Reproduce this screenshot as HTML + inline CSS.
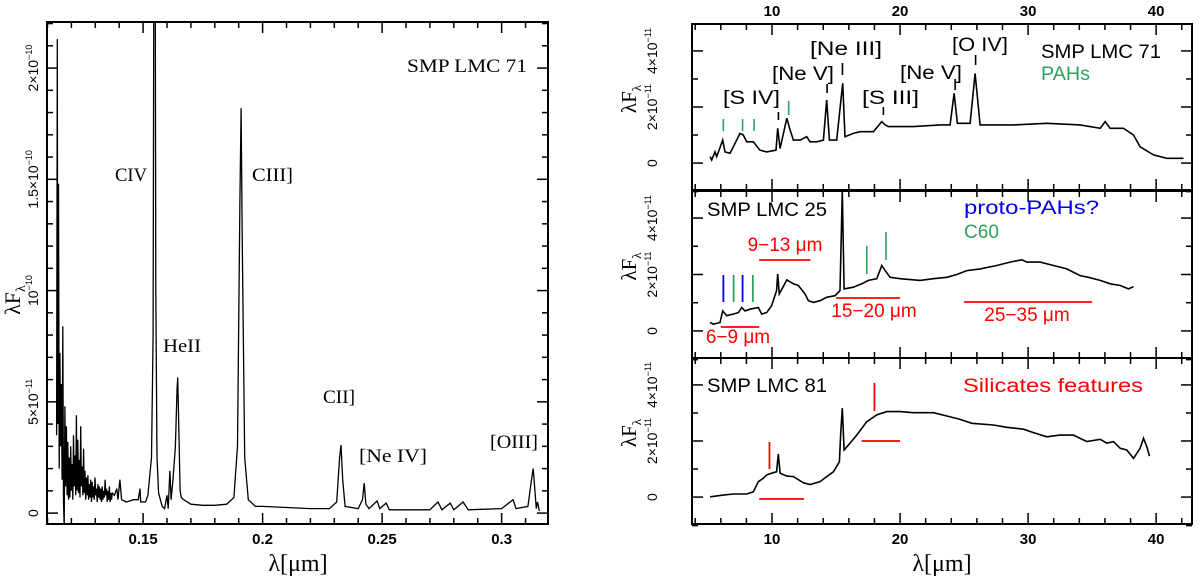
<!DOCTYPE html>
<html><head><meta charset="utf-8"><style>
html,body{margin:0;padding:0;background:#fff;}
svg{display:block;}
text{font-family:"Liberation Sans","DejaVu Sans",sans-serif;}
.serif{font-family:"Liberation Serif","DejaVu Serif",serif;}
</style></head><body>
<svg id="fig" width="1200" height="581" viewBox="0 0 1200 581" xmlns="http://www.w3.org/2000/svg">
</svg>
<script>
// ---------- LEFT (UV) panel data: wavelength (micron), flux (1e-11) ----------
const uvLam = [0.1138,0.1141,0.1143,0.1146,0.1149,0.1152,0.1155,0.1158,0.1161,0.1164,0.1167,0.1170,0.1173,0.1176,0.1179,0.1182,0.1185,0.1188,0.1191,0.1194,0.1197,0.1200,0.1203,0.1206,0.1209,0.1212,0.1215,0.1218,0.1221,0.1224,0.1227,0.1230,0.1233,0.1236,0.1239,0.1242,0.1245,0.1248,0.1251,0.1254,0.1257,0.1260,0.1263,0.1266,0.1269,0.1272,0.1275,0.1278,0.1281,0.1284,0.1287,0.1290,0.1293,0.1296,0.1299,0.1302,0.1305,0.1308,0.1311,0.1314,0.1317,0.1320,0.1323,0.1326,0.1329,0.1332,0.1335,0.1338,0.1341,0.1344,0.1347,0.1350,0.1353,0.1356,0.1359,0.1362,0.1365,0.1368,0.1371,0.1380,0.1390,0.1395,0.1403,0.1410,0.1430,0.1460,0.1480,0.1487,0.1490,0.1510,0.1520,0.1535,0.1542,0.1546,0.1550,0.1553,0.1558,0.1565,0.1580,0.1590,0.1600,0.1605,0.1612,0.1617,0.1625,0.1635,0.1642,0.1645,0.1648,0.1655,0.1660,0.1670,0.1700,0.1750,0.1800,0.1850,0.1880,0.1895,0.1905,0.1910,0.1915,0.1925,0.1940,0.1970,0.2000,0.2100,0.2200,0.2280,0.2310,0.2322,0.2328,0.2335,0.2345,0.2400,0.2418,0.2425,0.2432,0.2445,0.2479,0.2490,0.2517,0.2530,0.2700,0.2734,0.2750,0.2785,0.2800,0.2839,0.2860,0.3000,0.3048,0.3060,0.3110,0.3125,0.3132,0.3138,0.3145,0.3150,0.3158];
const uvFlux = [3.5,21.3,4,14.8,2,7.2,3,5.8,1.5,8.4,0.5,-0.6,4.8,1.2,3.9,0.8,3.2,0.6,2.5,0.7,3.0,1.0,2.2,0.6,3.5,1.2,2.6,0.8,4.4,1.0,3.3,0.9,2.4,0.7,3.9,1.2,2.1,0.8,2.9,0.9,1.9,0.6,1.6,0.8,1.7,0.6,1.3,0.7,1.5,0.5,1.4,0.7,1.2,0.6,1.6,0.8,1.1,0.5,1.3,0.7,1.2,0.6,1.1,0.5,1.2,0.6,1.0,0.7,1.5,0.8,1.1,0.5,1.0,0.6,1.2,0.5,0.9,0.6,0.9,0.8,1.1,0.6,1.5,0.6,0.5,0.6,0.6,1.1,0.5,0.5,0.8,2.5,8,30,30,10,2.5,0.9,0.3,0.2,0.8,0.2,1.9,0.6,1.5,3,5.5,6.1,4.5,1,0.7,0.6,0.4,0.35,0.35,0.4,0.7,3,14,18.2,12,2.5,0.6,0.3,0.3,0.25,0.2,0.2,0.5,2.5,3.06,1.5,0.3,0.2,0.6,1.35,0.4,0.2,0.55,0.2,0.45,0.15,0.15,0.5,0.15,0.45,0.15,0.5,0.15,0.2,0.6,0.2,0.3,1.5,2.0,1.2,0.2,0.5,0.1];
const uvXTicks = [0.15,0.2,0.25,0.3];
const uvXTickLabels = ["0.15","0.2","0.25","0.3"];
const uvYTicks = [0,5,10,15,20];
const uvYTickLabels = [["0",""],["5×10","−11"],["10","−10"],["1.5×10","−10"],["2×10","−10"]];

// ---------- RIGHT (IR) panels data: wavelength (micron), flux (1e-11) ----------
const irLam71 = [5.16,5.29,5.55,5.68,6.15,6.33,6.72,7.5,7.76,8.02,8.54,9.06,9.58,10.31,10.44,10.63,11.15,11.41,11.67,12.19,12.71,12.97,13.49,14.01,14.27,14.48,15.05,15.52,15.70,16.35,16.88,17.92,18.57,18.83,19.09,21.04,23.13,23.91,24.22,24.48,25.47,25.86,26.25,28.85,31.46,34.06,35.63,36.02,36.41,37.45,38.23,38.75,39.79,40.83,42.14];
const irFlux71 = [0.23,0.11,0.40,0.23,0.82,0.40,0.35,1.06,1.0,0.76,0.76,0.46,0.40,0.46,1.24,0.52,1.60,1.18,0.82,0.82,0.94,0.76,0.76,0.82,2.25,0.82,0.82,2.85,0.94,1.06,1.12,1.12,1.48,1.36,1.30,1.30,1.36,1.36,2.49,1.42,1.42,3.20,1.36,1.36,1.42,1.36,1.24,1.48,1.24,1.24,1.0,0.58,0.29,0.17,0.17];
const irLam25 = [5.16,5.42,5.94,6.15,6.46,6.98,7.37,7.63,7.89,8.28,8.93,9.19,9.58,9.97,10.36,10.44,10.57,11.15,11.67,12.06,12.58,12.84,13.23,13.75,14.27,14.92,15.31,15.49,15.63,16.35,17.01,17.53,18.18,18.57,18.83,19.22,20.0,21.56,22.60,23.65,24.43,25.21,26.25,27.55,28.59,29.51,29.90,30.94,31.98,33.02,34.06,34.71,35.63,36.41,37.19,37.84,38.23];
const irFlux25 = [0.30,0.24,0.30,0.71,0.54,0.60,0.65,0.83,0.71,0.77,0.83,0.60,0.65,0.89,1.43,2.02,1.31,1.81,1.67,1.61,1.31,1.07,1.01,1.07,1.19,1.25,1.43,4.94,1.49,1.55,1.67,1.79,1.85,2.32,2.14,1.90,1.85,1.79,1.85,1.90,2.0,2.14,2.20,2.32,2.44,2.52,2.44,2.44,2.32,2.20,1.96,1.90,1.79,1.67,1.61,1.49,1.57];
const irLam81 = [5.16,6.20,6.98,8.02,8.54,8.93,9.32,9.58,10.10,10.36,10.49,10.63,11.15,11.67,12.45,12.97,13.75,14.27,14.79,15.26,15.36,15.49,15.63,16.09,16.61,17.40,18.18,18.96,20.0,21.04,22.60,23.65,24.69,25.60,27.29,28.33,29.64,30.42,31.46,32.50,33.54,34.58,35.63,36.15,36.67,37.19,37.71,38.23,38.75,39.01,39.27,39.48];
const irFlux81 = [0.01,0.07,0.11,0.11,0.19,0.55,0.67,0.79,0.87,0.90,1.54,0.85,0.75,0.73,0.51,0.45,0.55,0.73,0.90,1.26,2.27,3.17,1.68,1.92,2.21,2.69,2.93,3.05,3.05,3.01,3.01,2.89,2.77,2.63,2.57,2.49,2.42,2.30,2.15,2.21,2.21,1.98,2.06,1.92,1.98,1.74,1.68,1.38,1.74,2.10,1.80,1.46];
const irXTicks = [10,20,30,40];
const irXTickLabels = ["10","20","30","40"];
const irYTicks = [0,2,4];

const NS="http://www.w3.org/2000/svg";
const svg=document.getElementById('fig');
function mk(tag,attrs,parent){const e=document.createElementNS(NS,tag);for(const k in attrs)e.setAttribute(k,attrs[k]);(parent||svg).appendChild(e);return e;}
function txt(s,x,y,size,opts,parent){opts=opts||{};const t=mk('text',{x:x,y:y,'font-size':size,fill:opts.fill||'#000','text-anchor':opts.anchor||'start'},parent);if(opts.cls)t.setAttribute('class',opts.cls);if(opts.len){t.setAttribute('textLength',opts.len);t.setAttribute('lengthAdjust','spacingAndGlyphs');}if(opts.rot)t.setAttribute('transform','rotate('+opts.rot+' '+x+' '+y+')');t.textContent=s;return t;}

// ===== Left panel =====
const L={x0:47,x1:548,y0:22,y1:524,lmin:0.1098,lmax:0.3194,fmin:-0.49,fmax:22.07};
const lx=l=>L.x0+(l-L.lmin)/(L.lmax-L.lmin)*(L.x1-L.x0);
const ly=f=>L.y1-(f-L.fmin)/(L.fmax-L.fmin)*(L.y1-L.y0);
const gL=mk('g',{});


const clipL=mk('clipPath',{id:'clipL'});mk('rect',{x:L.x0,y:L.y0,width:L.x1-L.x0,height:L.y1-L.y0},clipL);
const uvLine=mk('polyline',{points:uvLam.map((l,i)=>lx(l).toFixed(1)+','+ly(uvFlux[i]).toFixed(1)).join(' '),fill:'none',stroke:'#000','stroke-width':1.3,'clip-path':'url(#clipL)'},gL);


for(let v=0.11;v<=0.3195;v+=0.01){const x=lx(v);const maj=Math.abs(v/0.05-Math.round(v/0.05))<1e-6;const h=maj?11:6;
 mk('line',{x1:x,y1:L.y1,x2:x,y2:L.y1-h,stroke:'#000','stroke-width':1.5},gL);
 mk('line',{x1:x,y1:L.y0,x2:x,y2:L.y0+h,stroke:'#000','stroke-width':1.5},gL);}
uvXTicks.forEach((v,i)=>{const t=txt(uvXTickLabels[i],lx(v),544,15,{anchor:'middle'},gL);t.setAttribute('font-weight','bold');
 
 });
for(let v=0;v<=22;v+=1){const y=ly(v);const h=(v%5===0)?11:6;
 mk('line',{x1:L.x0,y1:y,x2:L.x0+h,y2:y,stroke:'#000','stroke-width':1.5},gL);
 mk('line',{x1:L.x1,y1:y,x2:L.x1-h,y2:y,stroke:'#000','stroke-width':1.5},gL);}
uvYTicks.forEach((v,i)=>{const y=ly(v);const t=mk('text',{x:38,y:y,'font-size':14,'text-anchor':'middle',transform:'rotate(-90 38 '+y+')'},gL);
 
 
 t.textContent=uvYTickLabels[i][0];if(uvYTickLabels[i][1]){const s=mk('tspan',{dy:-6,'font-size':9},t);s.textContent=uvYTickLabels[i][1];}});
mk('rect',{x:L.x0,y:L.y0,width:L.x1-L.x0,height:L.y1-L.y0,fill:'none',stroke:'#000','stroke-width':2},gL);
const ytL=mk('text',{x:20,y:300,'font-size':22,'text-anchor':'middle',transform:'rotate(-90 20 300)',class:'serif'},gL);


ytL.textContent='λF';const sub1=mk('tspan',{dy:5,'font-size':14},ytL);sub1.textContent='λ';
const xtL=txt('λ[μm]',298,571,24,{anchor:'middle',cls:'serif'},gL);


[['SMP LMC 71',407,72,120,'object-name'],['CIV',115,181,32,'civ-label'],['CIII]',252,181,41,'ciii-label'],['HeII',163,352,38,'heii-label'],['CII]',323,403,32,'cii-label'],['[Ne IV]',359,462,68,'neiv-label'],['[OIII]',490,448,48,'oiii-label']].forEach(a=>{
 const t=txt(a[0],a[1],a[2],19,{cls:'serif',len:a[3]},gL);
 
 });

// ===== Right panels =====
const R={x0:692,x1:1192,lmin:3.75,lmax:42.8,fmin:-0.96,fmax:4.96};
const rx=l=>R.x0+(l-R.lmin)/(R.lmax-R.lmin)*(R.x1-R.x0);
const panels=[{top:24,bot:190,lam:irLam71,flux:irFlux71,name:'smp-lmc-71-ir-panel'},{top:191,bot:358,lam:irLam25,flux:irFlux25,name:'smp-lmc-25-ir-panel'},{top:358,bot:524,lam:irLam81,flux:irFlux81,name:'smp-lmc-81-ir-panel'}];
panels.forEach((p,pi)=>{
 const ry=f=>p.bot-(f-R.fmin)/(R.fmax-R.fmin)*(p.bot-p.top);p.ry=ry;
 const g=mk('g',{});
 
 
 p.g=g;
 const ln=mk('polyline',{points:p.lam.map((l,i)=>rx(l).toFixed(1)+','+ry(p.flux[i]).toFixed(1)).join(' '),fill:'none',stroke:'#000','stroke-width':1.6},g);
 
 
 for(let v=4;v<=42;v+=2){const x=rx(v);const h=(v%10===0)?11:6;
  mk('line',{x1:x,y1:p.bot,x2:x,y2:p.bot-h,stroke:'#000','stroke-width':1.5},g);
  mk('line',{x1:x,y1:p.top,x2:x,y2:p.top+h,stroke:'#000','stroke-width':1.5},g);}
 for(let v=0;v<=4.5;v+=1){const y=ry(v);const h=(v%2===0)?11:6;
  mk('line',{x1:R.x0,y1:y,x2:R.x0+h,y2:y,stroke:'#000','stroke-width':1.5},g);
  mk('line',{x1:R.x1,y1:y,x2:R.x1-h,y2:y,stroke:'#000','stroke-width':1.5},g);}
 mk('line',{x1:R.x0,y1:ry(-1)+0.5,x2:R.x0+6,y2:ry(-1)+0.5,stroke:'#000','stroke-width':1.5},g);
 mk('line',{x1:R.x1,y1:ry(-1)+0.5,x2:R.x1-6,y2:ry(-1)+0.5,stroke:'#000','stroke-width':1.5},g);
 irYTicks.forEach(v=>{const y=ry(v);const t=mk('text',{x:657,y:y,'font-size':14,'text-anchor':'middle',transform:'rotate(-90 657 '+y+')'},g);
  
  
  if(v===0){t.textContent='0';}else{t.textContent=v+'×10';const s=mk('tspan',{dy:-6,'font-size':9},t);s.textContent='−11';}});
 const yc=(p.top+p.bot)/2-8;
 const yt=mk('text',{x:636,y:yc,'font-size':21,'text-anchor':'middle',class:'serif',transform:'rotate(-90 636 '+yc+')'},g);
 
 
 yt.textContent='λF';const s2=mk('tspan',{dy:5,'font-size':13},yt);s2.textContent='λ';
 mk('rect',{x:R.x0,y:p.top,width:R.x1-R.x0,height:p.bot-p.top,fill:'none',stroke:'#000','stroke-width':2},g);
});
irXTicks.forEach((v,i)=>{
 const a=txt(irXTickLabels[i],rx(v),16,15,{anchor:'middle'});a.setAttribute('font-weight','bold');
 
 
 const b=txt(irXTickLabels[i],rx(v),544,15,{anchor:'middle'});b.setAttribute('font-weight','bold');
 
 });
const xtR=txt('λ[μm]',942,571,24,{anchor:'middle',cls:'serif'});



// Panel 1 annotations
const g1=panels[0].g;
[['[S IV]',723,104,57],['[Ne V]',772,80,62],['[Ne III]',810,55,72],['[S III]',862,104,57],['[Ne V]',900,79,62],['[O IV]',952,51,56]].forEach(a=>{
 const t=txt(a[0],a[1],a[2],19,{len:a[3]},g1);
 
 });
[[10.5,112,120],[14.3,84,93],[15.5,63,75],[18.7,107,115],[24.3,79,90],[25.9,55,65]].forEach(a=>mk('line',{x1:rx(a[0]),y1:a[1],x2:rx(a[0]),y2:a[2],stroke:'#000','stroke-width':1.6},g1));
[[6.2,119,131],[7.7,119,131],[8.6,119,131],[11.3,101,115]].forEach(a=>mk('line',{x1:rx(a[0]),y1:a[1],x2:rx(a[0]),y2:a[2],stroke:'#2ca25f','stroke-width':1.6},g1));
let t=txt('SMP LMC 71',1041,58,19,{len:120},g1);
t=txt('PAHs',1041,80,19,{fill:'#2ca25f',len:49},g1);

// Panel 2 annotations
const g2=panels[1].g;
t=txt('SMP LMC 25',707,216,19,{len:120},g2);
t=txt('proto-PAHs?',964,214,19,{fill:'#0000ee',len:135},g2);
t=txt('C60',964,238,19,{fill:'#2ca25f',len:35},g2);
[[6.2,'#0000ee'],[7.0,'#2ca25f'],[7.7,'#0000ee'],[8.5,'#2ca25f']].forEach(a=>mk('line',{x1:rx(a[0]),y1:275,x2:rx(a[0]),y2:302,stroke:a[1],'stroke-width':1.8},g2));
mk('line',{x1:rx(17.4),y1:246,x2:rx(17.4),y2:274,stroke:'#2ca25f','stroke-width':1.6},g2);
mk('line',{x1:rx(18.9),y1:232,x2:rx(18.9),y2:260,stroke:'#2ca25f','stroke-width':1.6},g2);
[[6,9,327,'6−9 μm',738,343],[9,13,260,'9−13 μm',785,251],[15,20,298,'15−20 μm',874,317],[25,35,302,'25−35 μm',1027,321]].forEach(a=>{
 mk('line',{x1:rx(a[0]),y1:a[2],x2:rx(a[1]),y2:a[2],stroke:'#f00','stroke-width':1.8},g2);
 const tt=txt(a[3],a[4],a[5],19,{fill:'#f00',anchor:'middle'},g2);
 
 });

// Panel 3 annotations
const g3=panels[2].g;
t=txt('SMP LMC 81',707,392,19,{len:120},g3);
t=txt('Silicates features',963,392,19,{fill:'#f00',len:180},g3);
mk('line',{x1:rx(9.8),y1:442,x2:rx(9.8),y2:469,stroke:'#f00','stroke-width':1.8},g3);
mk('line',{x1:rx(18),y1:383,x2:rx(18),y2:411,stroke:'#f00','stroke-width':1.8},g3);
mk('line',{x1:rx(9),y1:499,x2:rx(12.5),y2:499,stroke:'#f00','stroke-width':1.8},g3);
mk('line',{x1:rx(17),y1:441,x2:rx(20),y2:441,stroke:'#f00','stroke-width':1.8},g3);
</script>
</body></html>
